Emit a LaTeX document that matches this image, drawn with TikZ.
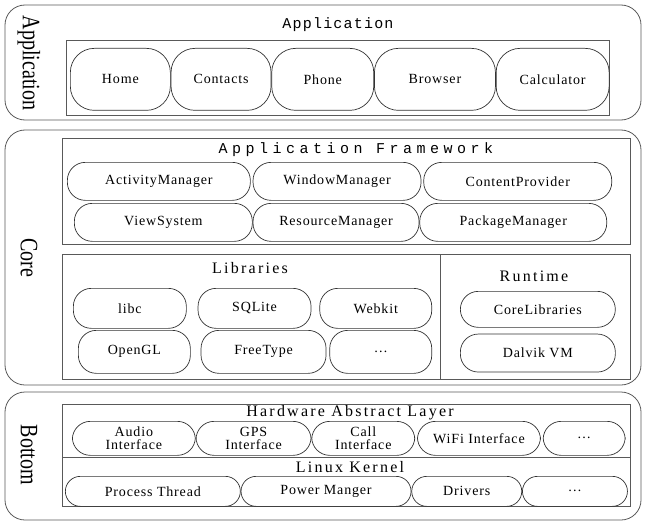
\documentclass[tikz,border=0pt]{standalone}
\usepackage{fontspec}
\setmainfont{Liberation Serif}[LetterSpace=6]
\newfontfamily\monotitle{Liberation Mono}[LetterSpace=8]
\newfontfamily\headfont{Liberation Serif}[LetterSpace=14]
\newfontfamily\sidefont{Liberation Serif}[FakeStretch=0.8]
\usetikzlibrary{positioning}

\begin{document}
\begin{tikzpicture}[
    x=1pt, y=-1pt,
    node distance=0pt,
    layer/.style={draw=black!65, line width=0.8pt, rounded corners=20pt},
    panel/.style={draw=black!65, line width=0.7pt},
    item/.style={draw=black!80, line width=0.7pt, rounded corners=18pt, inner sep=1pt, align=center, anchor=north west, font=\fontsize{14}{14}\selectfont},
    side/.style={rotate=-90, font=\sidefont\fontsize{25}{25}\selectfont},
    mono/.style={font=\monotitle\fontsize{15}{15}\selectfont},
    heading/.style={font=\headfont\fontsize{16}{16}\selectfont}
]
\useasboundingbox (0,0) rectangle (645,524);

% application layer
\draw[layer] (5,5) rectangle (641,120);
\node[side] (sideapp) at (29,63) {Application};
\node[mono] (titleapp) at (338,25) {Application};
\draw[panel] (66,40) rectangle (609,115);
\node[item, rounded corners=24pt, minimum width=100pt, minimum height=62pt] (home) at (70,48) {Home};
\node[item, rounded corners=24pt, minimum width=100pt, minimum height=62pt, right=of home] (contacts) {Contacts};
\node[item, rounded corners=24pt, minimum width=102pt, minimum height=62pt, right=of contacts] (phone) {Phone};
\node[item, rounded corners=24pt, minimum width=121pt, minimum height=62pt, right=of phone] (browser) {Browser};
\node[item, rounded corners=24pt, minimum width=113pt, minimum height=62pt, right=of browser] (calculator) {Calculator};

% core layer
\draw[layer] (5,130) rectangle (641,385);
\node[side] (sidecore) at (29,258) {Core};
\draw[panel] (62,138) rectangle (630,244);
\node[mono, font=\monotitle\fontsize{15}{15}\selectfont\addfontfeatures{LetterSpace=30}] (titlefw) at (356,150) {Application Framework};
\node[item, minimum width=183pt, minimum height=38pt] (activity) at (67,162) {ActivityManager};
\node[item, minimum width=168pt, minimum height=38pt, right=2pt of activity] (window) {WindowManager};
\node[item, minimum width=188pt, minimum height=38pt, right=2pt of window] (content) {ContentProvider};
\node[item, minimum width=178pt, minimum height=38pt] (view) at (74,203) {ViewSystem};
\node[item, minimum width=166pt, minimum height=38pt, right=of view] (resource) {ResourceManager};
\node[item, minimum width=187pt, minimum height=38pt, right=of resource] (package) {PackageManager};

\draw[panel] (62,254) rectangle (630,379);
\draw[panel] (440,254) -- (440,379);
\node[heading] (titlelib) at (250,268) {Libraries};
\node[heading] (titlert) at (534,276) {Runtime};
\node[item, minimum width=113pt, minimum height=40pt] (libc) at (73,288) {libc};
\node[item, minimum width=113pt, minimum height=40pt, right=11pt of libc] (sqlite) {SQLite};
\node[item, minimum width=112pt, minimum height=40pt, right=8pt of sqlite] (webkit) {Webkit};
\node[item, minimum width=112pt, minimum height=43pt] (opengl) at (78,330) {OpenGL};
\node[item, minimum width=125pt, minimum height=43pt, right=10pt of opengl] (freetype) {FreeType};
\node[item, minimum width=102pt, minimum height=43pt, right=3pt of freetype] (libmore) {\dots};
\node[item, minimum width=155pt, minimum height=36pt] (corelib) at (460,291) {CoreLibraries};
\node[item, minimum width=155pt, minimum height=38pt, below=6pt of corelib.south west, anchor=north west] (dalvik) {Dalvik VM};

% bottom layer
\draw[layer] (5,392) rectangle (641,520);
\node[side] (sidebottom) at (29,455) {Bottom};
\draw[panel] (62,404) rectangle (630,506);
\draw[panel] (62,457) -- (630,457);
\node[heading] (titlehal) at (350,413) {Hardware Abstract Layer};
\node[item, minimum width=123pt, minimum height=34pt, font=\fontsize{14}{13}\selectfont] (audio) at (72,421) {Audio\\Interface};
\node[item, minimum width=115pt, minimum height=34pt, font=\fontsize{14}{13}\selectfont, right=of audio] (gps) {GPS\\Interface};
\node[item, minimum width=103pt, minimum height=34pt, font=\fontsize{14}{13}\selectfont, right=of gps] (call) {Call\\Interface};
\node[item, minimum width=123pt, minimum height=34pt, right=2pt of call] (wifi) {WiFi Interface};
\node[item, minimum width=82pt, minimum height=34pt, right=2pt of wifi] (halmore) {\dots};
\node[heading] (titlekernel) at (350,467) {Linux Kernel};
\node[item, rounded corners=15pt, minimum width=175pt, minimum height=30pt] (process) at (65,476) {Process Thread};
\node[item, rounded corners=15pt, minimum width=170pt, minimum height=30pt, right=of process] (power) {Power Manger};
\node[item, rounded corners=15pt, minimum width=110pt, minimum height=30pt, right=of power] (drivers) {Drivers};
\node[item, rounded corners=15pt, minimum width=105pt, minimum height=30pt, right=of drivers] (kernelmore) {\dots};
\end{tikzpicture}
\end{document}
